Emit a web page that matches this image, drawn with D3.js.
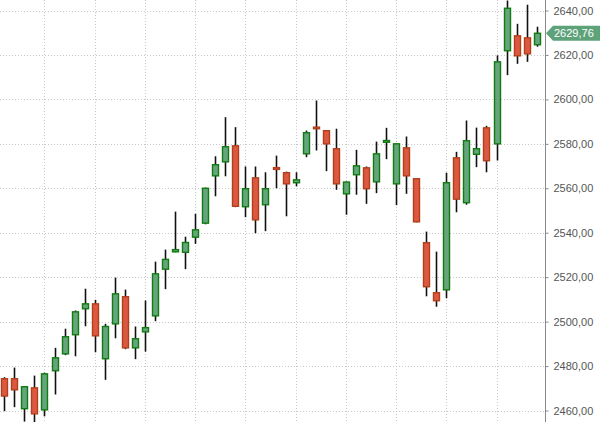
<!DOCTYPE html>
<html>
<head>
<meta charset="utf-8">
<script src="https://cdn.jsdelivr.net/npm/d3@7"></script>
<style>
  body { margin: 0; background: #fff; }
  .tick text { font-family: "Liberation Sans", Arial, sans-serif; font-size: 11px; fill: #555; }
</style>
</head>
<body>
<div id="d3-container"></div>
<script>
// daily candles, oldest first
let open_values  = [2474.3,2474.3,2460.8,2470.2,2460.3,2477.9,2485.5,2494.1,2505.8,2508,
                    2483.3,2499,2511.2,2488.2,2495.4,2502.6,2523.6,2531.4,2531.2,2538,
                    2544.3,2565.6,2571.9,2579.1,2551.7,2564.7,2552.6,2569.3,2567,2562.5,
                    2575.5,2587.5,2585.9,2577.8,2557.5,2566.1,2569.2,2562.9,2580.7,2562,
                    2578.2,2564.3,2535.5,2513,2514.3,2573.7,2553.5,2575.3,2587.2,2580,
                    2621.9,2628.6,2627.7,2624.6];
let high_values  = [2475,2479.3,2471,2475.7,2477,2488.2,2496.8,2505,2514.8,2509.8,
                    2499,2519.8,2514.4,2497.8,2509.5,2527,2532.4,2549.5,2538.2,2548.5,
                    2560.3,2574.4,2592,2587.5,2569.8,2569.8,2567.2,2574.7,2567.5,2567.2,
                    2586,2599.5,2586,2586.8,2563,2577.3,2569.8,2581,2587.2,2580.3,
                    2583.3,2564.5,2540.5,2531.5,2567,2576.4,2590.5,2587.3,2588.1,2619.8,
                    2644.5,2634,2642.6,2632.7];
let low_values   = [2459.7,2461.5,2455,2454,2457.4,2467.2,2484.9,2484.4,2497.9,2486.2,
                    2473.8,2492.5,2487.6,2483.1,2486.5,2500.2,2514.6,2531.2,2523.6,2535,
                    2543.8,2556.4,2565.4,2551.5,2547,2539.8,2540.7,2560,2547.4,2560.9,
                    2574,2577,2567.7,2559.3,2548.1,2557.1,2553,2557.8,2573.1,2552.4,
                    2557.5,2544.7,2511.4,2506.7,2510.5,2549.2,2552.6,2569.5,2567.2,2572.5,
                    2610.9,2616,2616.9,2623.7];
let close_values = [2466.5,2469.3,2470.7,2458.5,2476.5,2483.7,2493.2,2504.4,2508,2493.6,
                    2497.8,2512.5,2488.2,2492.3,2497.3,2521.5,2528,2532.4,2535.6,2541.3,
                    2560,2570.6,2578.7,2551.9,2559.8,2545.8,2559.8,2568.5,2562,2563.8,
                    2585,2586.8,2580,2562,2562.8,2570.1,2559.8,2575.5,2581.5,2580,
                    2565.6,2544.9,2515.7,2509.4,2562.5,2555.1,2581.4,2577.8,2572.4,2616.9,
                    2641,2619.6,2620.5,2629.76];
let y_ticks = [2460,2480,2500,2520,2540,2560,2580,2600,2620,2640];
let last_price = 2629.76;

let window_width = 600;
let window_height = 422;
let plot_right = 545;
let body_width = 6;

let svg = d3.select("#d3-container").append("svg")
    .attr("width", window_width)
    .attr("height", window_height);

let candles = open_values.map(function(o, i){
    return {i: i, o: o, h: high_values[i], l: low_values[i], c: close_values[i]};
});

let x = d3.scalePoint()
    .domain(candles.map(d => d.i))
    .range([4.3, 536.7]);

let y = d3.scaleLinear()
    .domain([2460, 2640])
    .range([410.5, 10.5]);

let fmt = v => d3.format(".2f")(v).replace(".", ",");

// grid
let grid = svg.append("g");
grid.selectAll(".hgrid")
    .data(y_ticks)
    .enter()
    .append("line")
    .attr("x1", 0).attr("x2", plot_right)
    .attr("y1", d => Math.round(y(d)) + 0.5)
    .attr("y2", d => Math.round(y(d)) + 0.5)
    .attr("stroke", "#c8c8c8")
    .attr("stroke-dasharray", "1,2");

let v_idx = candles.map(d => d.i).filter(i => i % 5 == 4);
grid.selectAll(".vgrid")
    .data(v_idx)
    .enter()
    .append("line")
    .attr("x1", d => Math.round(x(d)) + 0.5)
    .attr("x2", d => Math.round(x(d)) + 0.5)
    .attr("y1", 0).attr("y2", window_height)
    .attr("stroke", "#c8c8c8")
    .attr("stroke-dasharray", "1,2");

// candles
let plot = svg.append("g");
let up = d => d.c >= d.o;

plot.selectAll(".wick")
    .data(candles)
    .enter()
    .append("line")
    .attr("x1", d => Math.round(x(d.i)) + 0.5)
    .attr("x2", d => Math.round(x(d.i)) + 0.5)
    .attr("y1", d => y(d.h))
    .attr("y2", d => y(d.l))
    .attr("stroke", "#111")
    .attr("stroke-width", 1.6);

plot.selectAll(".body")
    .data(candles)
    .enter()
    .append("rect")
    .attr("x", d => Math.round(x(d.i)) + 0.5 - body_width/2)
    .attr("y", d => y(Math.max(d.o, d.c)))
    .attr("width", body_width)
    .attr("height", d => Math.max(1, Math.abs(y(d.o) - y(d.c))))
    .attr("fill", d => up(d) ? "#65a57c" : "#dd5840")
    .attr("stroke", d => up(d) ? "#127a12" : "#b0401c")
    .attr("stroke-width", 1.4);

// axis
let axis = svg.append("g")
    .attr("transform", "translate(" + (plot_right + 0.5) + ",0)")
    .call(d3.axisRight(y).tickValues(y_ticks).tickSize(3).tickPadding(5).tickFormat(fmt));
axis.select(".domain").attr("stroke", "#888").attr("d", "M0,0V" + window_height);
axis.selectAll(".tick line").attr("stroke", "#888");

// last price tag
let tag_y = y(last_price);
let tag = svg.append("g");
tag.append("path")
    .attr("d", "M" + (plot_right + 1) + "," + tag_y +
               " L" + (plot_right + 8) + "," + (tag_y - 7.5) +
               " H600 V" + (tag_y + 7.5) +
               " H" + (plot_right + 8) + " Z")
    .attr("fill", "#5ea27a");
tag.append("text")
    .attr("x", plot_right + 9)
    .attr("y", tag_y + 4)
    .attr("font-family", "Liberation Sans, Arial, sans-serif")
    .attr("font-size", "11px")
    .attr("fill", "#fff")
    .text(fmt(last_price));
</script>
</body>
</html>
